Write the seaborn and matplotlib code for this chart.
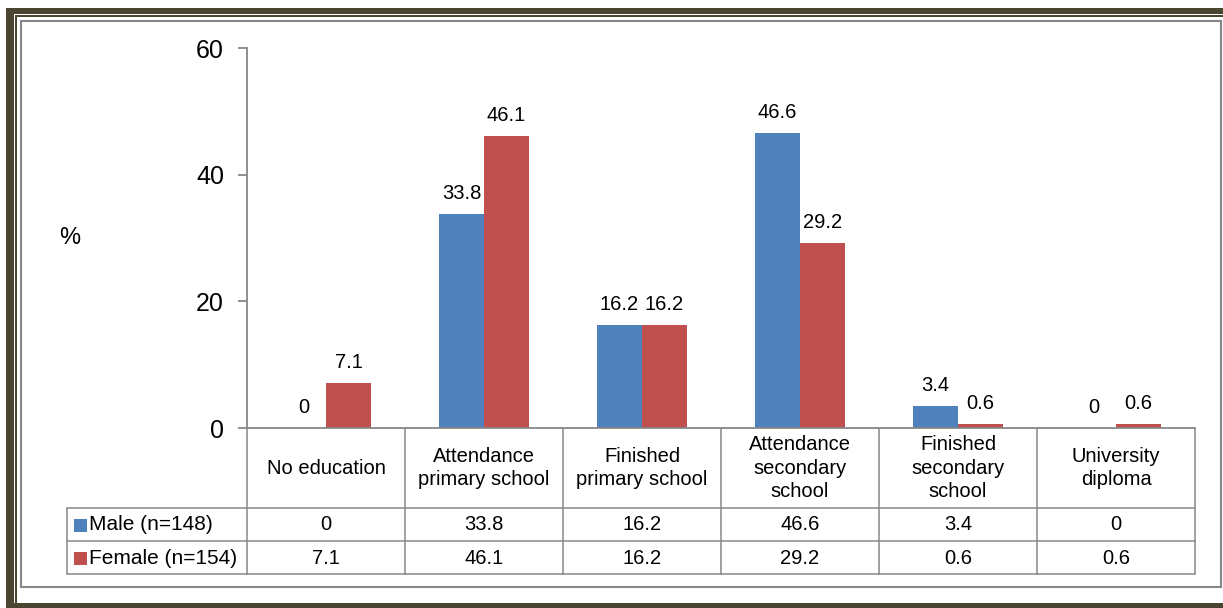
import numpy as np
import pandas as pd
import matplotlib
matplotlib.use("Agg")
import matplotlib.pyplot as plt
import seaborn as sns
from matplotlib.patches import Rectangle
from matplotlib.lines import Line2D
from matplotlib.transforms import blended_transform_factory

# ---------------- data ----------------
categories = ["No education", "Attendance primary school", "Finished primary school",
              "Attendance secondary school", "Finished secondary school", "University diploma"]
header_labels = ["No education", "Attendance\nprimary school", "Finished\nprimary school",
                 "Attendance\nsecondary\nschool", "Finished\nsecondary\nschool", "University\ndiploma"]
series_names = ["Male (n=148)", "Female (n=154)"]
male = [0, 33.8, 16.2, 46.6, 3.4, 0]
female = [7.1, 46.1, 16.2, 29.2, 0.6, 0.6]
y_ticks = [0, 20, 40, 60]
y_label = "%"

colors = ["#4F81BD", "#C0504D"]
GRAY = "#878787"
DARK = "#4A4530"
FS = 14.5

sns.set_style("white")
plt.rcParams["font.family"] = ["Liberation Sans", "DejaVu Sans"]
plt.rcParams["text.color"] = "black"
plt.rcParams["ytick.labelcolor"] = "black"

W, H = 1223, 608
fig = plt.figure(figsize=(W / 100, H / 100), dpi=100)
fig.patch.set_facecolor("white")


def frect(x0, y0, x1, y1, **kw):
    r = Rectangle((x0 / W, 1 - y1 / H), (x1 - x0) / W, (y1 - y0) / H,
                  transform=fig.transFigure, **kw)
    fig.patches.append(r)
    return r

# ---------------- frame ----------------
frect(6, 8, W + 5, H + 5, facecolor=DARK, edgecolor="none", zorder=-10)
frect(14, 14, W + 5, 603, facecolor="white", edgecolor="none", zorder=-9)
frect(15, 15, W + 5, 16.5, facecolor=DARK, edgecolor="none", zorder=-8)
frect(15, 15, 16.5, 603, facecolor=DARK, edgecolor="none", zorder=-8)
frect(16.5, 16.5, W + 5, 603, facecolor="white", edgecolor="none", zorder=-7)
frect(21, 21, 1221, 587, facecolor="white", edgecolor=GRAY, linewidth=1.5, zorder=-6)

# ---------------- axes ----------------
AX_L, AX_R, AX_T, AX_B = 247, 1195, 48, 428
ax = fig.add_axes([AX_L / W, 1 - AX_B / H, (AX_R - AX_L) / W, (AX_B - AX_T) / H])
ax.set_facecolor("none")

df = pd.DataFrame({
    "category": categories * 2,
    "series": [series_names[0]] * len(categories) + [series_names[1]] * len(categories),
    "value": male + female,
})
sns.barplot(data=df, x="category", y="value", hue="series", order=categories,
            hue_order=series_names, palette=colors, saturation=1, width=0.57, gap=0,
            errorbar=None, legend=False, linewidth=0, ax=ax)

ax.set_xlim(-0.5, len(categories) - 0.5)
ax.set_ylim(0, 60)
ax.set_yticks(y_ticks)
ax.set_yticklabels([str(t) for t in y_ticks])
ax.tick_params(axis="y", length=6.5, width=1.3, color=GRAY, pad=10, labelsize=18,
               labelcolor="black", left=True, direction="out")
ax.tick_params(axis="x", length=0, labelbottom=False, bottom=False)
ax.set_xlabel("")
ax.set_ylabel("")
for s in ["top", "right"]:
    ax.spines[s].set_visible(False)
for s in ["left", "bottom"]:
    ax.spines[s].set_color(GRAY)
    ax.spines[s].set_linewidth(1.3)

for cont, vals in zip(ax.containers, [male, female]):
    ax.bar_label(cont, labels=[f"{v:g}" for v in vals], padding=8, fontsize=FS,
                 color="black")

fig.text(70 / W, 1 - 238 / H, y_label, fontsize=17, ha="center", va="center",
         color="black")

# ---------------- data table ----------------
trans = blended_transform_factory(ax.transData, ax.transAxes)


def ya(ypix):
    return (AX_B - ypix) / (AX_B - AX_T)


def xd(xpix):
    return -0.5 + (xpix - AX_L) / ((AX_R - AX_L) / len(categories))


def tline(xs, ys):
    ln = Line2D(xs, ys, transform=trans, color=GRAY, linewidth=1.1, clip_on=False)
    ax.add_line(ln)

ROW1, ROW2, ROW3 = 508, 541, 574
left_x = xd(67)
n = len(categories)
for k in range(n + 1):
    tline([k - 0.5, k - 0.5], [ya(AX_B), ya(ROW3)])
for yy in (ROW1, ROW2, ROW3):
    tline([left_x, n - 0.5], [ya(yy), ya(yy)])
tline([left_x, left_x], [ya(ROW1), ya(ROW3)])

for i, lab in enumerate(header_labels):
    ax.text(i, ya(468), lab, transform=trans, ha="center", va="center",
            fontsize=FS, linespacing=1.32, clip_on=False, color="black")
for i in range(n):
    ax.text(i, ya(525), f"{male[i]:g}", transform=trans, ha="center", va="center",
            fontsize=FS, clip_on=False, color="black")
    ax.text(i, ya(558), f"{female[i]:g}", transform=trans, ha="center", va="center",
            fontsize=FS, clip_on=False, color="black")

for j, (name, c, yc) in enumerate(zip(series_names, colors, [525, 558])):
    frect(74, yc - 6.5, 87, yc + 6.5, facecolor=c, edgecolor="none", zorder=5)
    fig.text(89 / W, 1 - yc / H, name, fontsize=FS + 0.5, ha="left", va="center",
             color="black")

fig.savefig("out.png", dpi=100)
